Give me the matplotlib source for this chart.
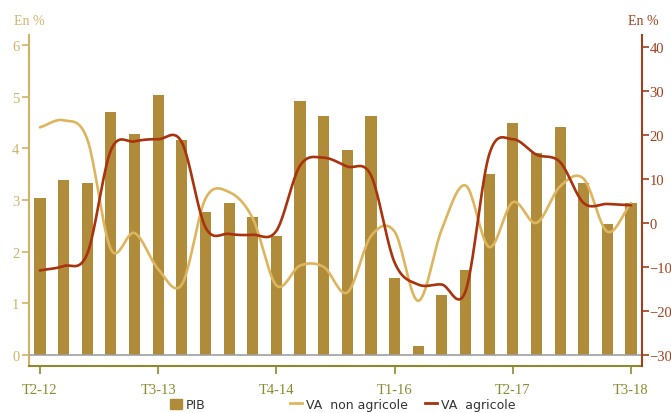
import numpy as np
import matplotlib.pyplot as plt
from matplotlib.patches import Patch
from matplotlib.lines import Line2D

# trimestres T2-12 .. T3-18
quarters = ["T2-12", "T3-12", "T4-12",
            "T1-13", "T2-13", "T3-13", "T4-13",
            "T1-14", "T2-14", "T3-14", "T4-14",
            "T1-15", "T2-15", "T3-15", "T4-15",
            "T1-16", "T2-16", "T3-16", "T4-16",
            "T1-17", "T2-17", "T3-17", "T4-17",
            "T1-18", "T2-18", "T3-18"]

pib = [3.03, 3.38, 3.33, 4.70, 4.27, 5.03, 4.16, 2.77, 2.94, 2.67, 2.31, 4.92, 4.62,
       3.97, 4.62, 1.49, 0.17, 1.16, 1.65, 3.51, 4.48, 3.90, 4.41, 3.32, 2.53, 2.94]

va_non_agricole = [21.7, 23.3, 19.0, -6.0, -2.3, -10.5, -14.0, 5.5, 7.0, 1.0, -14.2, -9.7, -10.0,
                   -15.8, -3.0, -2.0, -17.7, -1.4, 8.5, -5.5, 4.7, 0.0, 8.3, 10.0, -2.0, 4.5]

va_agricole = [-10.8, -9.8, -7.0, 16.5, 18.5, 19.0, 18.3, -1.0, -2.5, -2.7, -1.8, 13.0, 14.8,
               12.8, 10.8, -9.0, -14.0, -14.0, -15.5, 15.5, 19.0, 15.5, 13.8, 4.5, 4.3, 4.0]

tick_labels = ["T2-12", "T3-13", "T4-14", "T1-16", "T2-17", "T3-18"]

c_bar = "#B08B3A"
c_non = "#DDB55E"
c_agr = "#A8330C"
c_left = "#D2B265"
c_right = "#A0401C"
c_bottom = "#8C8A2E"


def smooth(x, y, n=20):
    # courbe lissée type Catmull-Rom (comme le lissage d'Excel)
    x = np.asarray(x, float)
    y = np.asarray(y, float)
    px = np.concatenate([[2 * x[0] - x[1]], x, [2 * x[-1] - x[-2]]])
    py = np.concatenate([[2 * y[0] - y[1]], y, [2 * y[-1] - y[-2]]])
    xs, ys = [], []
    t = np.linspace(0, 1, n, endpoint=False)
    for i in range(1, len(px) - 2):
        for arr, out in ((px, xs), (py, ys)):
            p0, p1, p2, p3 = arr[i - 1], arr[i], arr[i + 1], arr[i + 2]
            out.extend(0.5 * ((2 * p1) + (-p0 + p2) * t
                              + (2 * p0 - 5 * p1 + 4 * p2 - p3) * t ** 2
                              + (-p0 + 3 * p1 - 3 * p2 + p3) * t ** 3))
    xs.append(x[-1])
    ys.append(y[-1])
    return np.array(xs), np.array(ys)


x = np.arange(len(quarters))

fig = plt.figure(figsize=(6.71, 4.14), dpi=100)
ax1 = fig.add_axes([0.0432, 0.1135, 0.9136, 0.7995])
ax2 = ax1.twinx()

ax1.bar(x, pib, width=0.47, color=c_bar, zorder=2)
ax1.axhline(0, color="#A0A0A0", lw=1.2, zorder=3)

sx, sy = smooth(x, va_non_agricole)
ax2.plot(sx, sy, color=c_non, lw=1.9, solid_capstyle="round")
sx, sy = smooth(x, va_agricole)
ax2.plot(sx, sy, color=c_agr, lw=1.9, solid_capstyle="round")

ax1.set_xlim(-0.465, 25.465)
ax1.set_ylim(-0.213, 6.19)
ax2.set_ylim(-32.5, 42.66)

ax1.set_xticks([quarters.index(q) for q in tick_labels])
ax1.set_xticklabels(tick_labels)
ax1.set_yticks(range(0, 7))
ax2.set_yticks(range(-30, 41, 10))

serif = "Liberation Serif"
for lab in ax1.get_xticklabels():
    lab.set_fontfamily(serif)
for lab in ax1.get_yticklabels() + ax2.get_yticklabels():
    lab.set_fontfamily(serif)

ax1.tick_params(axis="x", colors=c_bottom, labelcolor=c_bottom, labelsize=10.5,
                direction="out", length=6, width=1.2, pad=6)
ax1.tick_params(axis="y", colors=c_left, labelcolor=c_left, labelsize=10.5,
                direction="out", length=5, width=1.2, pad=2)
ax2.tick_params(axis="y", colors=c_right, labelcolor=c_right, labelsize=10.5,
                direction="out", length=5, width=1.2, pad=0.5)

for ax in (ax1, ax2):
    ax.spines["top"].set_visible(False)
ax1.spines["right"].set_visible(False)
ax2.spines["left"].set_visible(False)
ax2.spines["bottom"].set_visible(False)
ax1.spines["left"].set_color(c_left)
ax1.spines["left"].set_linewidth(1.5)
ax1.spines["bottom"].set_color(c_bottom)
ax1.spines["bottom"].set_linewidth(1.5)
ax2.spines["right"].set_color(c_right)
ax2.spines["right"].set_linewidth(1.5)

fig.text(0.043, 0.94, "En %", color=c_left, fontsize=10, family=serif, ha="center")
fig.text(0.958, 0.94, "En %", color=c_right, fontsize=10, family=serif, ha="center")

# légende : trois éléments placés séparément
leg_items = [(Patch(color=c_bar), "PIB", 0.253),
             (Line2D([], [], color=c_non, lw=2), "VA  non agricole", 0.432),
             (Line2D([], [], color=c_agr, lw=2), "VA  agricole", 0.633)]
for h, lab, xpos in leg_items:
    fig.legend([h], [lab], loc="center left", bbox_to_anchor=(xpos, 0.02),
               frameon=False, fontsize=9, borderpad=0, borderaxespad=0,
               handlelength=0.95, handleheight=0.95, handletextpad=0.35,
               labelcolor="#333333")

fig.savefig("out.png", dpi=100)
